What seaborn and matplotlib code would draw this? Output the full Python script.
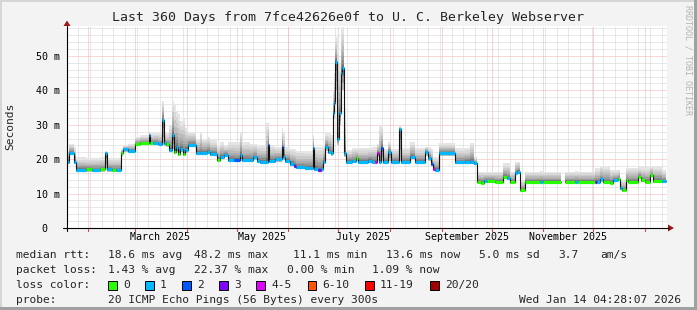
import numpy as np
import pandas as pd
import matplotlib
matplotlib.use("Agg")
import matplotlib.pyplot as plt
import matplotlib.dates as mdates
from matplotlib.patches import Rectangle, Polygon
from matplotlib.lines import Line2D
import seaborn as sns

# ---------------- data ----------------
# days since start of the 360-day window (start = 2025-01-19 04:28:07)
days = [0.0, 1.2, 4.2, 5.4, 11.4, 15.0, 19.8, 22.8, 24.0, 27.0, 29.4, 32.4, 33.6, 36.6,
        40.8, 43.8, 49.2, 49.8, 51.6, 54.6, 57.0, 58.2, 59.4, 61.2, 63.0, 64.2, 65.4,
        66.6, 67.8, 69.6, 70.8, 72.6, 77.4, 79.8, 81.0, 84.0, 85.8, 90.0, 91.8, 94.2,
        96.6, 100.2, 103.8, 105.0, 109.8, 111.6, 114.0, 115.8, 119.4, 120.6, 121.2,
        124.8, 129.0, 129.6, 130.8, 133.8, 136.2, 137.4, 142.8, 147.6, 148.2, 150.6,
        152.4, 153.6, 154.8, 156.6, 158.4, 159.6, 160.2, 160.8, 162.0, 163.2, 164.4,
        165.0, 166.2, 167.4, 171.0, 173.4, 174.6, 180.6, 183.0, 184.8, 186.0, 187.2,
        188.4, 189.6, 192.6, 194.4, 199.2, 200.4, 205.8, 208.8, 214.8, 216.6, 218.4,
        219.6, 220.8, 223.2, 232.8, 238.8, 241.8, 244.2, 246.0, 248.4, 250.2, 252.0,
        256.8, 261.6, 264.0, 265.8, 268.8, 270.0, 271.8, 274.8, 283.8, 285.6, 296.4,
        298.8, 304.8, 306.6, 316.8, 318.0, 319.8, 321.6, 325.8, 327.6, 330.6, 331.8,
        333.0, 335.4, 336.6, 342.6, 344.4, 346.8, 349.8, 351.6, 357.0]
data_end_day = 359.4
nan = float("nan")
median_ms = [19.3, 21.9, 19.3, 16.9, 17.0, 16.9, 17.0, 21.8, 17.0, 16.9, 16.9, 21.8, 22.9, 22.5,
             24.3, 24.6, 27.0, 24.6, 24.8, 24.5, 31.4, 24.6, 24.3, 22.8, 27.0, 22.2, 23.5,
             21.5, 23.0, 21.5, 22.7, 24.1, 21.8, 21.8, 21.8, 22.2, 21.6, 19.8, 20.6, 21.2,
             19.8, 19.7, 21.2, 19.8, 19.8, 20.6, 19.6, 19.3, 19.3, 24.1, 19.6,
             20.0, 23.6, 20.5, 19.5, 18.6, 18.0, 17.6, 17.4, 23.2, 17.2, 16.8,
             17.0, 19.3, 23.6, 22.2, 21.7, 33.3, 36.2, 48.3, 26.0, 33.3, 45.0,
             46.4, 21.7, 19.3, 19.4, 20.2, 19.3, 19.6, 19.3, 19.3, 21.7, 19.3,
             23.2, 19.3, 22.2, 19.3, 28.8, 19.3, 20.7, 19.3, 22.2, 20.2, 18.6,
             17.2, 16.9, 21.7, 19.1, 19.3, 19.3, 18.8, 13.5, 13.2, 13.7, 13.6,
             13.5, 14.9, 14.5, 13.4, 15.9, 16.4, 11.0, 13.5, 13.5, 13.5, nan,
             13.5, 13.5, 13.5, 13.5, 13.5, 14.1, 13.5, 13.2, 13.9, 14.2, 11.5,
             11.0, 13.9, 13.5, 14.9, 13.9, 13.5, 15.3, 13.8, 13.6]
smoke_hi_ms = [22.5, 24.5, 23.5, 20.5, 20.3, 20.3, 20.5, 22.3, 20.3, 20.3, 20.3, 23.0, 24.0, 24.5,
               26.5, 27.0, 28.0, 27.5, 27.5, 27.5, 37.0, 28.0, 27.5, 30.0, 37.0, 36.0, 34.0,
               33.0, 31.0, 32.0, 29.0, 28.0, 26.0, 28.0, 26.0, 26.5, 25.5, 24.0, 25.0, 24.0,
               25.0, 25.0, 28.0, 25.0, 24.5, 24.5, 24.0, 24.0, 30.5, 30.5, 24.0,
               23.5, 29.0, 28.0, 23.5, 23.0, 23.0, 22.5, 22.5, 27.0, 23.6, 23.6,
               23.6, 24.0, 27.5, 27.5, 27.0, 40.0, 45.0, 55.6, 55.6, 48.0, 58.0,
               58.5, 35.0, 22.7, 23.2, 23.2, 23.2, 23.2, 23.5, 23.5, 24.5, 30.0,
               30.0, 23.0, 25.0, 23.0, 29.5, 23.2, 25.0, 23.2, 23.6, 23.6, 23.0,
               20.7, 20.7, 24.6, 23.2, 23.2, 24.6, 20.7, 16.4, 16.4, 16.4, 16.4,
               16.4, 18.8, 18.8, 16.4, 19.3, 19.3, 14.0, 16.4, 16.5, 16.4, nan,
               16.4, 16.5, 16.4, 17.3, 17.3, 18.0, 18.0, 16.9, 16.9, 16.9, 14.0,
               14.0, 17.5, 17.5, 17.6, 17.6, 17.6, 18.0, 18.0, 16.9]
smoke_lo_ms = [18.8, 21.3, 18.5, 16.3, 16.4, 16.3, 16.3, 17.0, 16.4, 16.3, 16.3, 21.0, 22.0, 21.8,
               23.8, 24.0, 24.5, 24.0, 24.2, 24.0, 24.0, 23.8, 23.5, 22.2, 23.0, 21.5, 22.0,
               21.0, 22.0, 21.0, 21.8, 23.5, 21.2, 21.2, 21.2, 21.4, 21.0, 19.2, 20.0, 20.5,
               19.2, 19.1, 19.5, 19.2, 19.2, 19.8, 19.0, 18.6, 18.6, 19.5, 19.0,
               19.3, 19.8, 19.8, 18.9, 18.0, 17.4, 17.0, 16.8, 17.5, 16.6, 16.2,
               16.4, 18.5, 22.5, 21.5, 21.0, 30.0, 32.0, 40.0, 24.0, 30.0, 38.0,
               40.0, 20.5, 18.7, 18.8, 19.5, 18.7, 19.0, 18.7, 18.7, 20.5, 18.7,
               19.5, 18.7, 19.5, 18.7, 19.5, 18.7, 20.0, 18.7, 21.0, 19.5, 18.0,
               16.6, 16.3, 21.0, 18.5, 18.7, 18.7, 18.2, 13.0, 12.7, 13.1, 13.0,
               13.0, 14.3, 14.0, 12.9, 15.3, 15.8, 10.6, 13.0, 13.0, 13.0, nan,
               13.0, 13.0, 13.0, 13.0, 13.0, 13.5, 13.0, 12.7, 13.3, 13.6, 11.0,
               10.6, 13.3, 13.0, 14.3, 13.3, 13.0, 14.7, 13.2, 13.0]
loss_bucket = [1, 1, 1, 1, 0, 1, 0, 1, 1, 0, 1, 0, 1, 1,
               0, 0, 1, 0, 1, 1, 1, 1, 0, 1, 1, 0, 1,
               0, 1, 0, 1, 1, 1, 1, 1, 1, 1, 0, 1, 1,
               1, 2, 1, 1, 1, 1, 1, 1, 1, 2, 1,
               1, 2, 1, 1, 1, 3, 1, 1, 1, 1, 3,
               1, 1, 1, 1, 1, 1, 1, 1, 1, 1, 1,
               1, 1, 1, 1, 0, 1, 1, 1, 4, 4, 1,
               2, 1, 1, 1, 1, 1, 1, 1, 1, 1, 2,
               4, 1, 1, 1, 1, 1, 1, 0, 0, 1, 0,
               0, 0, 1, 0, 1, 1, 0, 0, 1, 0, -1,
               0, 1, 0, 3, 1, 1, 0, 0, 1, 0, 1,
               0, 0, 0, 0, 0, 0, 0, 0, 1]

loss_labels = ["0", "1", "2", "3", "4-5", "6-10", "11-19", "20/20"]
loss_colors = ["#26ff00", "#00b8ff", "#0059ff", "#7e00ff", "#dd00ff", "#ff5500", "#ff0000", "#a10000"]
y_tick_values = [0, 10, 20, 30, 40, 50]
y_tick_labels = ["0  ", "10 m", "20 m", "30 m", "40 m", "50 m"]
x_label_dates = ["2025-03-16", "2025-05-16", "2025-07-16", "2025-09-16", "2025-11-16"]
x_label_texts = ["March 2025", "May 2025", "July 2025", "September 2025", "November 2025"]

title = "Last 360 Days from 7fce42626e0f to U. C. Berkeley Webserver"
stats_rtt = ["median rtt:", "18.6 ms avg", "48.2 ms max", "11.1 ms min", "13.6 ms now", "5.0 ms sd", "3.7", "am/s"]
stats_loss = ["packet loss:", "1.43 % avg", "22.37 % max", "0.00 % min", "1.09 % now"]
probe_text = "20 ICMP Echo Pings (56 Bytes) every 300s"
stamp_text = "Wed Jan 14 04:28:07 2026"

# ---------------- figure ----------------
sns.set_theme(style="white")
plt.rcParams["font.family"] = ["DejaVu Sans Mono", "DejaVu Sans"]

W, H = 697, 310
fig = plt.figure(figsize=(W / 100, H / 100), dpi=100)
fig.patch.set_facecolor("#f3f3f3")

def fx(x):
    return x / W

def fy(y):
    return 1 - y / H

ax = fig.add_axes([fx(67), fy(228), 600 / W, 202 / H])
ax.set_facecolor("white")
for s in ax.spines.values():
    s.set_visible(False)

start = pd.Timestamp("2025-01-19 04:28:07")
x0 = mdates.date2num(start.to_pydatetime())
xd = x0 + np.array(days)
x_end = x0 + data_end_day
med = np.array(median_ms)
hi = np.array(smoke_hi_ms)
lo = np.array(smoke_lo_ms)
loss = np.array(loss_bucket)

ax.set_xlim(x0, x0 + 360)
ax.set_ylim(0, 58.7)

# grid
minor_c = "#d2d2d2"
major_c = "#f0b0b0"
for d in pd.date_range("2025-01-26", "2026-01-14", freq="7D"):
    ax.axvline(mdates.date2num(d.to_pydatetime()), color=minor_c, lw=0.72, ls=(0, (1, 1)), zorder=0.5)
month_starts = pd.date_range("2025-02-01", "2026-01-01", freq="MS")
for d in month_starts:
    ax.axvline(mdates.date2num(d.to_pydatetime()), color=major_c, lw=0.72, ls=(0, (1, 1)), zorder=0.6)
for v in range(2, 59, 2):
    if v % 10:
        ax.axhline(v, color=minor_c, lw=0.72, ls=(0, (1, 1)), zorder=0.5)
    else:
        ax.axhline(v, color=major_c, lw=0.72, ls=(0, (1, 1)), zorder=0.6)

# split into valid runs, each extended to the next timestamp
valid = ~np.isnan(med)
runs = []
i = 0
n = len(days)
while i < n:
    if not valid[i]:
        i += 1
        continue
    j = i
    while j + 1 < n and valid[j + 1]:
        j += 1
    idx = list(range(i, j + 1))
    xe = xd[j + 1] if j + 1 < n else x_end
    runs.append((idx, xe))
    i = j + 1

# smoke layers
N_UP = 10
N_DN = 3
for idx, xe in runs:
    xs = np.append(xd[idx], xe)
    m = np.append(med[idx], med[idx][-1])
    h = np.append(hi[idx], hi[idx][-1])
    l = np.append(lo[idx], lo[idx][-1])
    for k in range(1, N_UP + 1):
        f0 = ((k - 1) / N_UP) ** 1.8
        f1 = (k / N_UP) ** 1.8
        g = 0.30 + 0.60 * ((k - 1) / (N_UP - 1)) ** 0.8
        ax.fill_between(xs, m + (h - m) * f0, m + (h - m) * f1, step="post",
                        color=(g, g, g), lw=0, zorder=2)
    for k in range(1, N_DN + 1):
        f0 = (k - 1) / N_DN
        f1 = k / N_DN
        g = 0.45 + 0.15 * (k - 1)
        ax.fill_between(xs, m - (m - l) * f0, m - (m - l) * f1, step="post",
                        color=(g, g, g), lw=0, zorder=2)

# median black step line (seaborn)
rows = []
for sidx, (idx, xe) in enumerate(runs):
    for k in idx:
        rows.append((sidx, xd[k], med[k]))
    rows.append((sidx, xe, med[idx[-1]]))
line_df = pd.DataFrame(rows, columns=["seg", "x", "y"])
sns.lineplot(data=line_df, x="x", y="y", units="seg", estimator=None, sort=False,
             color="#111111", lw=0.8, drawstyle="steps-post", legend=False, ax=ax, zorder=3)

# loss-coloured median segments
for idx, xe in runs:
    for p, k in enumerate(idx):
        xn = xd[idx[p + 1]] if p + 1 < len(idx) else xe
        ax.hlines(med[k], xd[k], xn, color=loss_colors[loss[k]], lw=2.3, zorder=4,
                  capstyle="butt")

ax.set_xlabel("")
ax.set_ylabel("")
ax.set_yticks(y_tick_values)
ax.set_yticklabels(y_tick_labels)
ax.set_xticks([mdates.date2num(pd.Timestamp(d).to_pydatetime()) for d in x_label_dates])
ax.set_xticklabels(x_label_texts)
ax.tick_params(axis="y", length=0, pad=5.0, labelsize=7.2, labelcolor="black")
ax.tick_params(axis="x", length=0, pad=3.0, labelsize=7.2, labelcolor="black")
ax.minorticks_off()

# axis lines and arrows (figure pixel coordinates)
def px_line(xs_, ys_, **kw):
    fig.add_artist(Line2D([fx(v) for v in xs_], [fy(v) for v in ys_],
                          transform=fig.transFigure, **kw))

px_line([63, 669], [228, 228], color="black", lw=0.8)
px_line([67, 67], [231, 26], color="black", lw=0.8)
fig.add_artist(Polygon([(fx(668), fy(224.5)), (fx(668), fy(231.5)), (fx(674), fy(228))],
                       closed=True, transform=fig.transFigure, color="#a01818", lw=0))
fig.add_artist(Polygon([(fx(63.5), fy(26)), (fx(70.5), fy(26)), (fx(67), fy(20.5))],
                       closed=True, transform=fig.transFigure, color="#a01818", lw=0))
for d in month_starts:
    xpix = 67 + (mdates.date2num(d.to_pydatetime()) - x0) / 360 * 600
    px_line([xpix, xpix], [228.5, 231], color="#d04040", lw=0.8)

# frame
fig.add_artist(Rectangle((0, fy(2)), 1, 2 / H, transform=fig.transFigure, color="#d6d6d6", lw=0))
fig.add_artist(Rectangle((0, 0), 2 / W, 1, transform=fig.transFigure, color="#d6d6d6", lw=0))
fig.add_artist(Rectangle((fx(694), 0), 3 / W, 1, transform=fig.transFigure, color="#a0a0a0", lw=0))
fig.add_artist(Rectangle((0, 0), 1, 3 / H, transform=fig.transFigure, color="#a0a0a0", lw=0))

# texts
fig.text(fx(348), fy(18), title, fontsize=9.5, ha="center", va="center")
fig.text(fx(10), fy(126), "Seconds", fontsize=8.1, rotation=90, ha="center", va="center")
fig.text(fx(688), fy(60), "RRDTOOL / TOBI OETIKER", fontsize=6, rotation=270,
         color="#b4b4b4", ha="center", va="center")

LFS = 8.1
rtt_x = [16, 107.6, 194, 293, 386, 479, 558, 600]
for t, xp in zip(stats_rtt, rtt_x):
    fig.text(fx(xp), fy(255), t, fontsize=LFS, ha="left", va="center")
loss_x = [16, 107.6, 194, 287, 372]
for t, xp in zip(stats_loss, loss_x):
    fig.text(fx(xp), fy(270), t, fontsize=LFS, ha="left", va="center")
fig.text(fx(16), fy(285), "loss color:", fontsize=LFS, ha="left", va="center")
sw_x = [108, 145, 182, 219, 256, 307.6, 365, 430]
for lab, col, xp in zip(loss_labels, loss_colors, sw_x):
    fig.add_artist(Rectangle((fx(xp), fy(289.5)), 8.5 / W, 9 / H, transform=fig.transFigure,
                             facecolor=col, edgecolor="black", lw=0.7))
    fig.text(fx(xp + 15), fy(285), lab, fontsize=LFS, ha="left", va="center")
fig.text(fx(16), fy(300), "probe:", fontsize=LFS, ha="left", va="center")
fig.text(fx(107.6), fy(300), probe_text, fontsize=LFS, ha="left", va="center")
fig.text(fx(681), fy(300), stamp_text, fontsize=LFS, ha="right", va="center")

fig.savefig("out.png", dpi=100, facecolor=fig.get_facecolor())
